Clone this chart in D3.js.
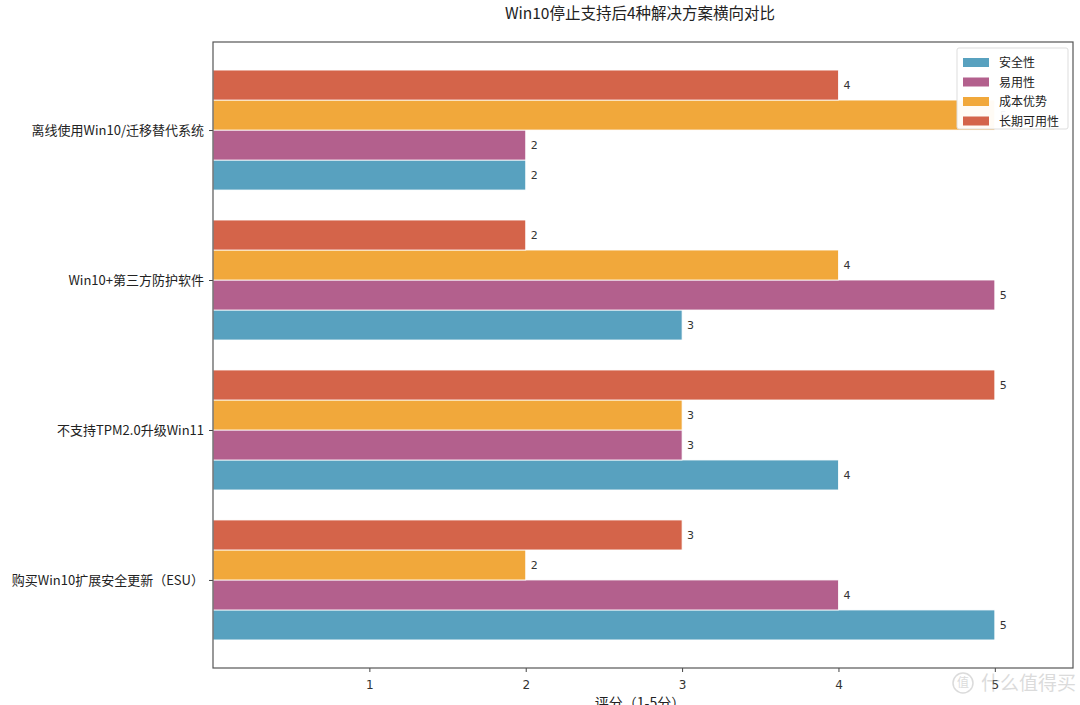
<!DOCTYPE html>
<html>
<head>
<meta charset="utf-8">
<script src="https://cdn.jsdelivr.net/npm/d3@7"></script>
<style>
  body { margin: 0; background: #fff; }
  text { font-family: "Noto Sans CJK SC", "DejaVu Sans", sans-serif; }
  .num { font-family: "DejaVu Sans", sans-serif; }
</style>
</head>
<body>
<svg id="chart" width="1080" height="705"></svg>
<script>
let width = 1080, height = 705;
let margin = { top: 42, right: 7, bottom: 37, left: 213 };

// data, bottom category first (matplotlib order)
let categories = ["购买Win10扩展安全更新（ESU）", "不支持TPM2.0升级Win11", "Win10+第三方防护软件", "离线使用Win10/迁移替代系统"];
let seriesNames = ["安全性", "易用性", "成本优势", "长期可用性"];
let seriesColors = ["#58a1bf", "#b3608d", "#f1a83b", "#d4644a"];
let safety = [5, 4, 3, 2];
let usability = [4, 3, 5, 2];
let cost = [2, 3, 4, 5];
let longTerm = [3, 5, 2, 4];
let xTicks = [1, 2, 3, 4, 5];

let series = [safety, usability, cost, longTerm];
let barH = 0.2;

let svg = d3.select("#chart");

let x = d3.scaleLinear().domain([0, 5.5]).range([margin.left, width - margin.right]);
let y = d3.scaleLinear().domain([-0.587, 3.587]).range([height - margin.bottom, margin.top]);

// title
svg.append("text")
  .attr("x", 640).attr("y", 19)
  .attr("text-anchor", "middle")
  .style("font-size", "15.5px")
  .style("fill", "#222")
  .text("Win10停止支持后4种解决方案横向对比");

// bars
series.forEach((vals, s) => {
  let offset = (s - 1.5) * barH;
  let g = svg.append("g");
  g.selectAll("rect")
    .data(vals)
    .enter().append("rect")
    .attr("x", x(0))
    .attr("y", (d, i) => y(i + offset + barH / 2))
    .attr("width", d => x(d) - x(0))
    .attr("height", (d, i) => y(i + offset - barH / 2) - y(i + offset + barH / 2))
    .style("fill", seriesColors[s])
    .style("stroke", "#fff")
    .style("stroke-width", 0.8);

  g.selectAll("text")
    .data(vals)
    .enter().append("text")
    .attr("class", "num")
    .attr("x", d => x(d) + 5)
    .attr("y", (d, i) => y(i + offset))
    .attr("dy", "0.35em")
    .style("font-size", "11px")
    .style("fill", "#333")
    .text(d => d);
});

// axes
svg.append("g")
  .attr("transform", "translate(0," + (height - margin.bottom) + ")")
  .call(d3.axisBottom(x).tickValues(xTicks).tickFormat(d3.format("d")).tickSize(4).tickPadding(8))
  .call(g => g.select(".domain").remove())
  .call(g => g.selectAll("text").attr("class", "num").style("font-size", "12px").style("fill", "#333"))
  .call(g => g.selectAll("line").style("stroke", "#444"));

svg.append("g")
  .attr("transform", "translate(" + margin.left + ",0)")
  .call(d3.axisLeft(y).tickValues([0, 1, 2, 3]).tickFormat(i => categories[i]).tickSize(4).tickPadding(5))
  .call(g => g.select(".domain").remove())
  .call(g => g.selectAll("text").style("font-size", "13px").style("fill", "#222"))
  .call(g => g.selectAll("line").style("stroke", "#444"));

// frame
svg.append("rect")
  .attr("x", margin.left).attr("y", margin.top)
  .attr("width", width - margin.left - margin.right)
  .attr("height", height - margin.top - margin.bottom)
  .style("fill", "none")
  .style("stroke", "#555")
  .style("stroke-width", 1.2);

// x label
svg.append("text")
  .attr("x", 640).attr("y", 708)
  .attr("text-anchor", "middle")
  .style("font-size", "14px")
  .style("fill", "#222")
  .text("评分（1-5分）");

// legend (covers the orange "5" label like in the source)
let legend = svg.append("g").attr("transform", "translate(957,48)");
legend.append("rect")
  .attr("width", 111).attr("height", 81).attr("rx", 2)
  .style("fill", "#fff").style("fill-opacity", 0.95)
  .style("stroke", "#ddd");
seriesNames.forEach((name, s) => {
  let row = legend.append("g").attr("transform", "translate(0," + (10 + s * 19.5) + ")");
  row.append("rect")
    .attr("x", 6).attr("y", 0).attr("width", 26).attr("height", 9)
    .style("fill", seriesColors[s]);
  row.append("text")
    .attr("x", 42).attr("y", 5).attr("dy", "0.35em")
    .style("font-size", "12px").style("fill", "#222")
    .text(name);
});

// watermark
let wm = svg.append("g").style("opacity", 0.35);
wm.append("circle").attr("cx", 963).attr("cy", 683).attr("r", 10)
  .style("fill", "none").style("stroke", "#999").style("stroke-width", 1.5);
wm.append("text").attr("x", 963).attr("y", 683).attr("dy", "0.35em")
  .attr("text-anchor", "middle").style("font-size", "12px").style("fill", "#999").text("值");
wm.append("text").attr("x", 981).attr("y", 683).attr("dy", "0.35em")
  .style("font-size", "19px").style("fill", "#999").text("什么值得买");
</script>
</body>
</html>
